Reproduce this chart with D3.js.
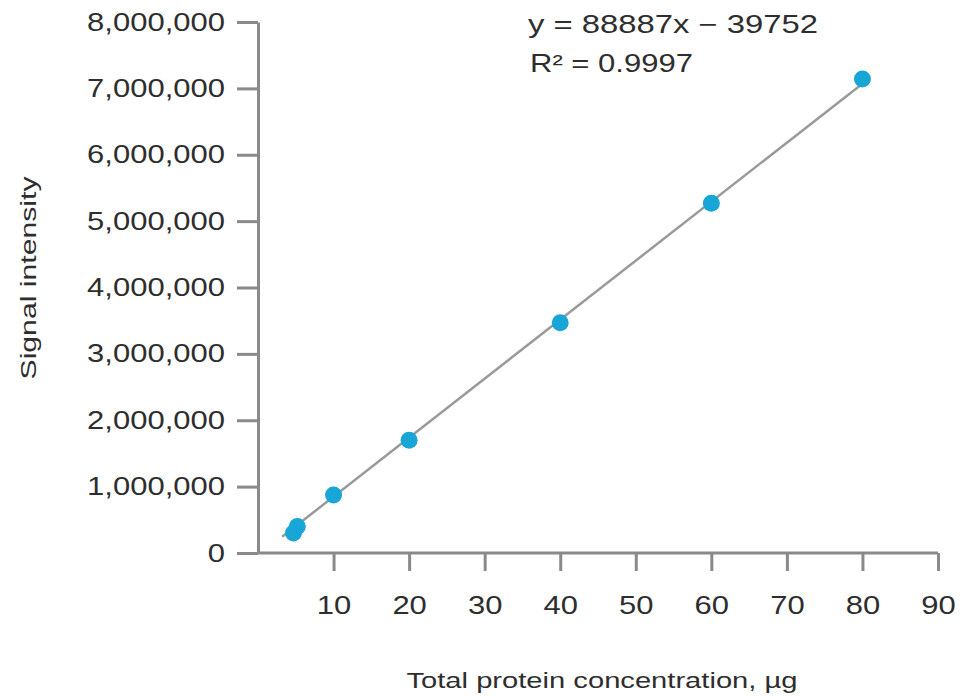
<html>
  <head>
    <title>standard curve</title>
    <script src="https://d3js.org/d3.v7.min.js"></script>
    <style>
      body { margin: 0; background: #fff; }
      text { font-family: "Liberation Sans", Arial, sans-serif; fill: #2e2e2e; }
    </style>
  </head>
  <body>
    <div id="wrapper">
      <script>
        // data
        var xValues = [4.7, 5.2, 10, 20, 40, 60, 80];
        var yValues = [300000, 400000, 874000, 1700000, 3470000, 5270000, 7140000];
        var xTicks = [10, 20, 30, 40, 50, 60, 70, 80, 90];
        var yTicks = [0, 1000000, 2000000, 3000000, 4000000, 5000000, 6000000, 7000000, 8000000];
        var fitSlope = 88887;
        var fitIntercept = -39752;
        var fitRange = [3.2, 80];
        var equationLines = ["y = 88887x \u2212 39752", "R\u00b2 = 0.9997"];
        var xTitle = "Total protein concentration, \u00b5g";
        var yTitle = "Signal intensity";

        var width = 966, height = 696;
        var stretch = 1.24; // the labels in the picture are a wide face

        var svg = d3.select("#wrapper").append("svg")
          .attr("width", width)
          .attr("height", height);

        var xScale = d3.scaleLinear().domain([0, 90]).range([258, 938]);
        var yScale = d3.scaleLinear().domain([0, 8000000]).range([553, 22]);

        // y axis
        var yAxis = d3.axisLeft(yScale)
          .tickValues(yTicks)
          .tickSize(21)
          .tickSizeOuter(0)
          .tickPadding(12)
          .tickFormat(d3.format(","));
        var gy = svg.append("g")
          .attr("transform", "translate(" + xScale(0) + ",0)")
          .call(yAxis);
        gy.selectAll("text")
          .attr("x", -33 / stretch)
          .attr("transform", "scale(" + stretch + ",1)")
          .style("font-size", "25px")
          .attr("fill", "#2e2e2e");

        // x axis
        var xAxis = d3.axisBottom(xScale)
          .tickValues(xTicks)
          .tickSize(18)
          .tickSizeOuter(0)
          .tickPadding(25);
        var gx = svg.append("g")
          .attr("transform", "translate(0," + yScale(0) + ")")
          .call(xAxis);
        gx.selectAll("text")
          .attr("transform", "scale(" + stretch + ",1)")
          .style("font-size", "25px")
          .attr("fill", "#2e2e2e");

        svg.selectAll(".domain, .tick line")
          .attr("stroke", "#8a8a8a")
          .attr("stroke-width", 3);
        gx.select(".domain").attr("d", "M" + xScale(0) + ",0H" + xScale(90));

        // fitted line
        svg.append("line")
          .attr("x1", xScale(fitRange[0]))
          .attr("y1", yScale(fitSlope * fitRange[0] + fitIntercept))
          .attr("x2", xScale(fitRange[1]))
          .attr("y2", yScale(fitSlope * fitRange[1] + fitIntercept))
          .attr("stroke", "#9a9a9a")
          .attr("stroke-width", 2.5);

        // points
        svg.selectAll("circle.pt")
          .data(xValues)
          .enter().append("circle")
          .attr("class", "pt")
          .attr("cx", function(d) { return xScale(d); })
          .attr("cy", function(d, i) { return yScale(yValues[i]); })
          .attr("r", 8.5)
          .attr("fill", "#17a6d6");

        // equation
        var eqX = [528, 530], eqY = [33, 72], eqLen = [290, 163];
        equationLines.forEach(function(s, i) {
          svg.append("text")
            .attr("x", eqX[i])
            .attr("y", eqY[i])
            .attr("textLength", eqLen[i])
            .attr("lengthAdjust", "spacingAndGlyphs")
            .style("font-size", "25px")
            .text(s);
        });

        // axis titles
        svg.append("text")
          .attr("x", 602)
          .attr("y", 688)
          .attr("text-anchor", "middle")
          .attr("textLength", 391)
          .attr("lengthAdjust", "spacingAndGlyphs")
          .style("font-size", "22px")
          .text(xTitle);

        svg.append("text")
          .attr("transform", "translate(36,278) rotate(-90)")
          .attr("text-anchor", "middle")
          .attr("textLength", 203)
          .attr("lengthAdjust", "spacingAndGlyphs")
          .style("font-size", "22px")
          .text(yTitle);
      </script>
    </div>
  </body>
</html>
